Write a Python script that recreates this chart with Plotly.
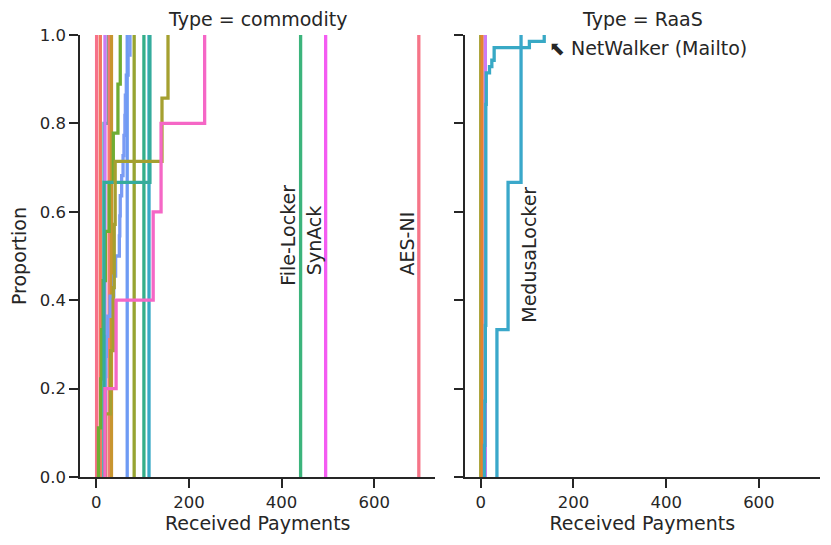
import plotly.graph_objects as go

# ---------------- data ----------------
commodity_names = ["Fam-A", "Fam-B", "Fam-C", "Fam-D", "Fam-E", "Fam-F", "Fam-G",
                   "Fam-H", "Fam-I", "Fam-J", "Fam-K", "Fam-L", "Fam-M", "Fam-N",
                   "File-Locker", "Fam-P", "SynAck", "AES-NI"]
commodity_values = [
    [1],                                   # red
    [9],                                   # salmon
    [17, 17, 17, 17, 26],                  # teal small
    [19],                                  # violet
    [28],                                  # red-salmon
    [33],                                  # orange-olive
    [5, 10, 12, 15, 20, 28, 37, 47, 52],   # green
    [18, 19, 19, 20, 20, 21, 22, 25, 30, 38, 42, 50, 51, 52, 55, 58,
     60, 62, 63, 65, 69, 73],              # blue
    [67],                                  # blue single
    [82],                                  # olive single
    [103],                                 # green-teal single
    [114],                                 # cyan single
    [17, 17, 116],                         # teal
    [20, 31, 37, 39, 41, 142, 155],        # olive staircase
    [441],                                 # File-Locker
    [19, 43, 123, 140, 234],               # pink staircase
    [495],                                 # SynAck
    [696],                                 # AES-NI
]
commodity_colors = ["#f77189", "#f2775f", "#36ada4", "#cc7af4", "#f47a74", "#c8952f",
                    "#6fad32", "#7a9cf4", "#6e9bf4", "#97a431", "#34af8a", "#38a9c5",
                    "#35ac9c", "#a5a030", "#3cb47c", "#f567c6", "#f45cf2", "#f67588"]

raas_names = ["RaaS-A", "RaaS-B", "RaaS-C", "NetWalker (Mailto)", "MedusaLocker"]
raas_values = [
    [0],
    [3],
    [10],
    [8, 8, 8, 8, 8, 9, 9, 9, 9, 9, 9, 9, 10, 10, 10, 10, 10, 10, 10, 10,
     10, 10, 10, 10, 11, 11, 11, 11, 11, 11, 11, 11, 11, 11, 11, 11, 11, 11,
     11, 11, 11, 11, 11, 11, 11, 11, 11, 11, 11, 11, 11, 11, 11, 11, 11, 11,
     11, 11, 11, 12, 12, 12, 12, 12, 19, 24, 29, 29, 105, 137],
    [35, 59, 87],
]
raas_colors = ["#a8a031", "#e5832f", "#cc7af4", "#38a9c5", "#3aa8ca"]

# labels drawn next to lines: (text, panel, x, y, side, xshift)
vlabels = [("File-Locker", 1, 441, 0.547, "left", 1),
           ("SynAck", 1, 495, 0.535, "left", 1),
           ("AES-NI", 1, 696, 0.528, "left", 1),
           ("MedusaLocker", 2, 87, 0.503, "right", -5)]
arrow_label = ("⬉ NetWalker (Mailto)", 2, 143, 0.97)

y_ticks = [0.0, 0.2, 0.4, 0.6, 0.8, 1.0]
x_ticks = [0, 200, 400, 600]
x_range = [-34.85, 731.85]


def ecdf_xy(vals):
    xs = sorted(vals)
    n = len(xs)
    return [xs[0]] + xs, [0.0] + [(i + 1) / n for i in range(n)]


fig = go.Figure()
for name, col, vals in zip(commodity_names, commodity_colors, commodity_values):
    x, y = ecdf_xy(vals)
    fig.add_trace(go.Scatter(x=x, y=y, mode="lines", line=dict(color=col, width=3.3, shape="hv"),
                             name=name, showlegend=False, xaxis="x", yaxis="y"))
for name, col, vals in zip(raas_names, raas_colors, raas_values):
    x, y = ecdf_xy(vals)
    fig.add_trace(go.Scatter(x=x, y=y, mode="lines", line=dict(color=col, width=3.3, shape="hv"),
                             name=name, showlegend=False, xaxis="x2", yaxis="y2"))

font = "DejaVu Sans"
ink = "#262626"
# page body has an 8px margin, so the figure is placed 8px in
W, H = 823, 537
L, T = 70.3, 27
plot_h = 441.7
B = H - T - plot_h
panel_w = 356.5
gap = 464 - 8 - (L + panel_w)
R = W - (L + 2 * panel_w + gap)
pw = W - L - R
d1 = [0, panel_w / pw]
d2 = [(panel_w + gap) / pw, 1]

ax_common = dict(range=x_range, tickvals=x_ticks, showgrid=False, zeroline=False,
                 showline=True, linecolor=ink, linewidth=1.5, ticks="outside",
                 ticklen=9, tickwidth=1.5, tickcolor=ink,
                 tickfont=dict(family=font, size=16.5, color=ink),
                 title=dict(text="Received Payments", font=dict(family=font, size=19, color=ink),
                            standoff=4))
ay_common = dict(range=[0, 1], tickvals=y_ticks, showgrid=False, zeroline=False,
                 showline=True, linecolor=ink, linewidth=1.5, ticks="outside",
                 ticklen=9, tickwidth=1.5, tickcolor=ink,
                 tickfont=dict(family=font, size=16.5, color=ink))

fig.update_layout(
    width=W, height=H, margin=dict(l=L, r=R, t=T, b=B, pad=0),
    paper_bgcolor="white", plot_bgcolor="white",
    font=dict(family=font, color=ink),
    xaxis=dict(domain=d1, anchor="y", **ax_common),
    xaxis2=dict(domain=d2, anchor="y2", **ax_common),
    yaxis=dict(domain=[0, 1], anchor="x", tickformat=".1f",
               title=dict(text="Proportion", font=dict(family=font, size=19, color=ink), standoff=8),
               **ay_common),
    yaxis2=dict(domain=[0, 1], anchor="x2", showticklabels=False, **ay_common),
)

annotations = [
    dict(text="Type = commodity", xref="x domain", yref="paper", x=0.5, y=1, yshift=4,
         xanchor="center", yanchor="bottom", showarrow=False, borderpad=0,
         font=dict(family=font, size=19, color=ink)),
    dict(text="Type = RaaS", xref="x2 domain", yref="paper", x=0.5, y=1, yshift=4,
         xanchor="center", yanchor="bottom", showarrow=False, borderpad=0,
         font=dict(family=font, size=19, color=ink)),
]
for text, panel, xv, yv, side, xs in vlabels:
    xr = "x" if panel == 1 else "x2"
    yr = "y" if panel == 1 else "y2"
    annotations.append(dict(text=text, xref=xr, yref=yr, x=xv, y=yv, textangle=-90,
                            xanchor="right" if side == "left" else "left",
                            xshift=xs, yanchor="middle", showarrow=False,
                            font=dict(family=font, size=19, color=ink)))
text, panel, xv, yv = arrow_label
annotations.append(dict(text=text, xref="x2", yref="y2", x=xv, y=yv, xanchor="left",
                        yanchor="middle", showarrow=False,
                        font=dict(family=font, size=19, color=ink)))
fig.update_layout(annotations=annotations)

fig.write_html("out.html")
